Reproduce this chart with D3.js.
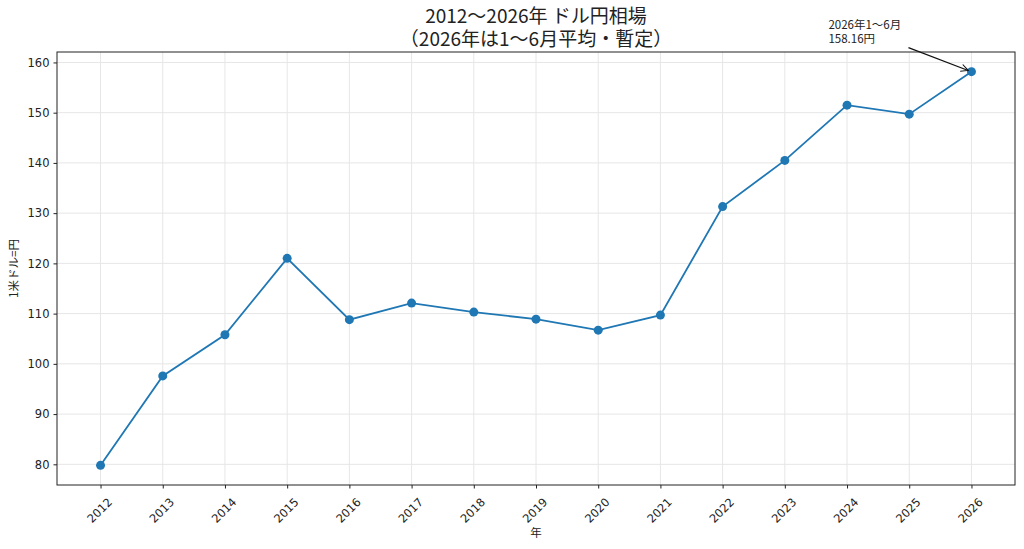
<!DOCTYPE html>
<html>
<head>
<meta charset="utf-8">
<script src="https://cdn.jsdelivr.net/npm/d3@7"></script>
<style>
	body { margin: 0; background: #fff; }
	svg { display: block; }
	.tick text { font-family: "DejaVu Sans", sans-serif; font-size: 11.5px; fill: #222; }
	.cjk { font-family: "Noto Sans CJK JP", sans-serif; fill: #222; }
</style>
</head>
<body>
<svg id="chart"></svg>
<script>
// 年
var years = [2012, 2013, 2014, 2015, 2016, 2017, 2018, 2019, 2020, 2021, 2022, 2023, 2024, 2025, 2026];
// 年平均 (円/ドル), 2026年は1〜6月平均
var rates = [79.8, 97.6, 105.8, 121.0, 108.8, 112.1, 110.3, 108.9, 106.7, 109.7, 131.3, 140.5, 151.5, 149.7, 158.16];
var yTicks = [80, 90, 100, 110, 120, 130, 140, 150, 160];
var titleLines = ["2012〜2026年 ドル円相場", "（2026年は1〜6月平均・暫定）"];
var noteLines = ["2026年1〜6月", "158.16円"];
var xLabel = "年";
var yLabel = "1米ドル=円";

var lineChart = {
	width: 1024,
	height: 549,
	padding: { left: 57, right: 9, top: 52, bottom: 64 },	// 枠の位置
	lineColor: "#1f77b4",
	gridColor: "#e6e6e6",
	dotR: 4.5,
	svg: null,
	x: null,
	y: null,
	setup: function(id) {
		var p = this.padding;
		var xPad = (d3.max(years) - d3.min(years)) * 0.05;	// matplotlib風の余白
		var yPad = (d3.max(rates) - d3.min(rates)) * 0.05;
		this.x = d3.scaleLinear()
			.domain([d3.min(years) - xPad, d3.max(years) + xPad])
			.range([p.left, this.width - p.right]);
		this.y = d3.scaleLinear()
			.domain([d3.min(rates) - yPad, d3.max(rates) + yPad])
			.range([this.height - p.bottom, p.top]);
		this.svg = d3.select("#" + id)
			.attr("width", this.width)
			.attr("height", this.height);
	},
	drawGrid: function() {
		var x = this.x, y = this.y, p = this.padding;
		var g = this.svg.append("g").attr("id", "grid");
		g.selectAll("line.v")
			.data(years)
			.enter()
			.append("line")
			.attr("class", "v")
			.attr("x1", function(d) { return x(d); })
			.attr("x2", function(d) { return x(d); })
			.attr("y1", p.top)
			.attr("y2", this.height - p.bottom)
			.attr("stroke", this.gridColor)
			.attr("stroke-width", 1);
		g.selectAll("line.h")
			.data(yTicks)
			.enter()
			.append("line")
			.attr("class", "h")
			.attr("x1", p.left)
			.attr("x2", this.width - p.right)
			.attr("y1", function(d) { return y(d); })
			.attr("y2", function(d) { return y(d); })
			.attr("stroke", this.gridColor)
			.attr("stroke-width", 1);
	},
	drawAxes: function() {
		var p = this.padding;
		var xAxis = d3.axisBottom(this.x)
			.tickValues(years)
			.tickFormat(d3.format("d"))
			.tickSizeOuter(0)
			.tickSize(3.5)
			.tickPadding(3.5);
		var yAxis = d3.axisLeft(this.y)
			.tickValues(yTicks)
			.tickSizeOuter(0)
			.tickSize(3.5)
			.tickPadding(4);

		var gx = this.svg.append("g")
			.attr("transform", "translate(0," + (this.height - p.bottom) + ")")
			.call(xAxis);
		gx.select(".domain").remove();
		gx.selectAll(".tick line").attr("stroke", "#222");
		gx.selectAll(".tick text")
			.attr("text-anchor", "middle")
			.attr("dy", null)
			.attr("dominant-baseline", "central")
			.attr("y", 24)
			.attr("transform", "rotate(-45,0,24)")
			.attr("x", -2);

		var gy = this.svg.append("g")
			.attr("transform", "translate(" + p.left + ",0)")
			.call(yAxis);
		gy.select(".domain").remove();
		gy.selectAll(".tick line").attr("stroke", "#222");

		// 枠
		this.svg.append("rect")
			.attr("x", p.left)
			.attr("y", p.top)
			.attr("width", this.width - p.left - p.right)
			.attr("height", this.height - p.top - p.bottom)
			.attr("fill", "none")
			.attr("stroke", "#222")
			.attr("stroke-width", 1);
	},
	drawData: function() {
		var x = this.x, y = this.y;
		var pts = years.map(function(d, i) { return { year: d, rate: rates[i] }; });
		var line = d3.line()
			.x(function(d) { return x(d.year); })
			.y(function(d) { return y(d.rate); });

		this.svg.append("path")
			.datum(pts)
			.attr("d", line)
			.attr("fill", "none")
			.attr("stroke", this.lineColor)
			.attr("stroke-width", 1.8);

		this.svg.append("g")
			.selectAll("circle")
			.data(pts)
			.enter()
			.append("circle")
			.attr("cx", function(d) { return x(d.year); })
			.attr("cy", function(d) { return y(d.rate); })
			.attr("r", this.dotR)
			.attr("fill", this.lineColor);
	},
	drawLabels: function() {
		var p = this.padding;
		var cx = (p.left + this.width - p.right) / 2;

		// タイトル (2行)
		this.svg.append("g")
			.selectAll("text")
			.data(titleLines)
			.enter()
			.append("text")
			.attr("class", "cjk")
			.attr("text-anchor", "middle")
			.attr("font-size", 19)
			.attr("x", cx)
			.attr("y", function(d, i) { return 23 + i * 23; })
			.text(function(d) { return d; });

		this.svg.append("text")
			.attr("class", "cjk")
			.attr("x", cx)
			.attr("y", 537)
			.attr("text-anchor", "middle")
			.attr("font-size", 11.5)
			.text(xLabel);

		this.svg.append("text")
			.attr("class", "cjk")
			.attr("transform", "translate(18," + ((p.top + this.height - p.bottom) / 2) + ") rotate(-90)")
			.attr("text-anchor", "middle")
			.attr("font-size", 11.5)
			.text(yLabel);
	},
	drawNote: function() {
		var last = years.length - 1;
		var px = this.x(years[last]);
		var py = this.y(rates[last]);

		var defs = this.svg.append("defs");
		defs.append("marker")
			.attr("id", "head")
			.attr("viewBox", "0 0 10 10")
			.attr("refX", 9)
			.attr("refY", 5)
			.attr("markerWidth", 9)
			.attr("markerHeight", 9)
			.attr("markerUnits", "userSpaceOnUse")
			.attr("orient", "auto")
			.append("path")
			.attr("d", "M1,1 L9,5 L1,9")
			.attr("fill", "none")
			.attr("stroke", "#111")
			.attr("stroke-width", 1.2);

		// 矢印: テキスト側から点の手前まで
		var sx = px - 63, sy = py - 24;
		var dx = px - sx, dy = py - sy;
		var len = Math.sqrt(dx * dx + dy * dy);
		var shrink = 3.5;
		this.svg.append("line")
			.attr("x1", sx)
			.attr("y1", sy)
			.attr("x2", px - dx / len * shrink)
			.attr("y2", py - dy / len * shrink)
			.attr("stroke", "#111")
			.attr("stroke-width", 1.2)
			.attr("marker-end", "url(#head)");

		this.svg.append("text")
			.attr("class", "cjk")
			.attr("font-size", 11.5)
			.selectAll("tspan")
			.data(noteLines)
			.enter()
			.append("tspan")
			.attr("x", px - 143)
			.attr("y", function(d, i) { return py - 43 + i * 14; })
			.text(function(d) { return d; });
	},
	run: function(id) {
		this.setup(id);
		this.drawGrid();
		this.drawData();
		this.drawAxes();
		this.drawLabels();
		this.drawNote();
	}
};

lineChart.run("chart");
</script>
</body>
</html>
